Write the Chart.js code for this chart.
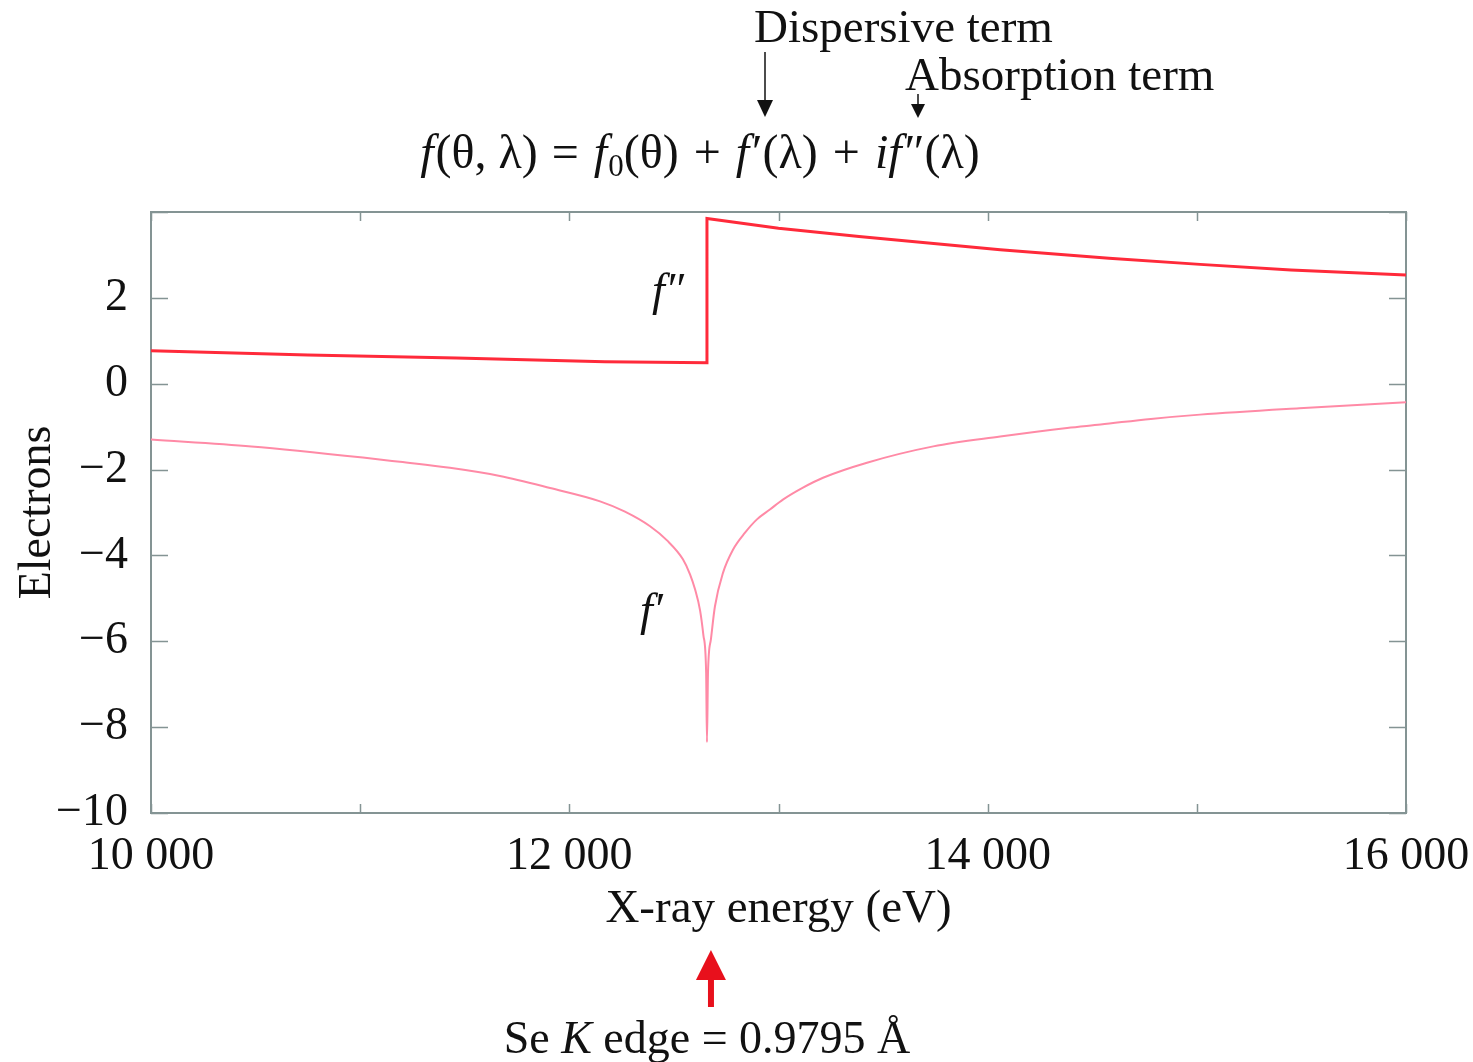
<!DOCTYPE html>
<html>
<head>
<meta charset="utf-8">
<script src="https://cdn.jsdelivr.net/npm/chart.js@4.4.1/dist/chart.umd.min.js"></script>
<style>
  html, body { margin: 0; padding: 0; background: #ffffff; }
  #wrap { width: 1473px; height: 1062px; position: relative; }
</style>
</head>
<body>
<div id="wrap"><canvas id="c" width="1473" height="1062"></canvas></div>
<script>
// ---- data ----
const fPrimeEnergy = [10000, 10480, 11013, 11190, 11429, 11668, 11908, 12147, 12266, 12386, 12467, 12543, 12577, 12601, 12625, 12641, 12654, 12658, 12663, 12677, 12696, 12735, 12783, 12840, 12897, 12959, 13021, 13117, 13213, 13423, 13740, 14060, 14380, 14540, 14780, 15015, 15490, 16000];
const fPrimeValues = [-1.30, -1.46, -1.72, -1.82, -1.96, -2.15, -2.43, -2.74, -2.98, -3.32, -3.65, -4.09, -4.44, -4.79, -5.28, -5.86, -6.72, -8.35, -6.72, -5.95, -5.19, -4.40, -3.86, -3.47, -3.16, -2.93, -2.70, -2.42, -2.19, -1.84, -1.46, -1.23, -1.03, -0.95, -0.82, -0.72, -0.57, -0.43];

const fDoublePrimeEnergy = [10000, 10750, 11460, 12170, 12658, 12658, 13000, 13385, 14060, 14580, 15015, 15450, 16000];
const fDoublePrimeValues = [0.77, 0.67, 0.60, 0.51, 0.49, 3.85, 3.62, 3.43, 3.12, 2.92, 2.78, 2.65, 2.53];

const xTickValues = [10000, 12000, 14000, 16000];
const xTickLabels = ['10 000', '12 000', '14 000', '16 000'];
const yTickValues = [-10, -8, -6, -4, -2, 0, 2];
const yTickLabels = ['\u221210', '\u22128', '\u22126', '\u22124', '\u22122', '0', '2'];

const xTitle = 'X-ray energy (eV)';
const yTitle = 'Electrons';
const edgeEnergy = 12658;

// ---- styles ----
const SERIF = '"Liberation Serif", "DejaVu Serif", serif';
const FRAME = '#849494';
const RED = '#ff2a3a';
const PINK = '#ff8aa6';
const INK = '#111111';

const toPoints = (xs, ys) => xs.map((v, i) => ({ x: v, y: ys[i] }));

function drawRich(ctx, parts, x, y) {
  let cx = x;
  for (const p of parts) {
    ctx.font = (p.italic ? 'italic ' : '') + p.size + 'px ' + SERIF;
    ctx.fillText(p.t, cx, y + (p.dy || 0));
    cx += ctx.measureText(p.t).width + (p.kern || 0);
  }
  return cx;
}
function measureRich(ctx, parts) {
  let w = 0;
  for (const p of parts) {
    ctx.font = (p.italic ? 'italic ' : '') + p.size + 'px ' + SERIF;
    w += ctx.measureText(p.t).width + (p.kern || 0);
  }
  return w;
}
function arrow(ctx, x, y1, y2, headLen, headHalf, width, color) {
  ctx.save();
  ctx.strokeStyle = color; ctx.fillStyle = color; ctx.lineWidth = width;
  const dir = y2 > y1 ? 1 : -1;
  ctx.beginPath(); ctx.moveTo(x, y1); ctx.lineTo(x, y2 - dir * headLen * 0.8); ctx.stroke();
  ctx.beginPath(); ctx.moveTo(x, y2); ctx.lineTo(x - headHalf, y2 - dir * headLen); ctx.lineTo(x + headHalf, y2 - dir * headLen); ctx.closePath(); ctx.fill();
  ctx.restore();
}

const frameAndTicks = {
  id: 'frameAndTicks',
  beforeDatasetsDraw(chart) {
    const { ctx, chartArea: a, scales: { x, y } } = chart;
    ctx.save();
    ctx.strokeStyle = FRAME;
    ctx.lineWidth = 2;
    ctx.strokeRect(a.left, a.top, a.right - a.left, a.bottom - a.top);
    ctx.beginPath();
    x.ticks.forEach(t => {
      const px = Math.round(x.getPixelForValue(t.value)) + 0.5;
      ctx.moveTo(px, a.bottom); ctx.lineTo(px, a.bottom - 9);
      ctx.moveTo(px, a.top); ctx.lineTo(px, a.top + 9);
    });
    y.ticks.forEach(t => {
      const py = Math.round(y.getPixelForValue(t.value)) + 0.5;
      ctx.moveTo(a.left, py); ctx.lineTo(a.left + 17, py);
      ctx.moveTo(a.right, py); ctx.lineTo(a.right - 17, py);
    });
    ctx.lineWidth = 1.5;
    ctx.stroke();
    ctx.restore();
  },
  afterDraw(chart) {
    const { ctx, scales: { x } } = chart;
    ctx.save();
    ctx.fillStyle = INK;
    ctx.textBaseline = 'alphabetic';
    ctx.textAlign = 'left';

    // top annotations
    ctx.font = '47px ' + SERIF;
    ctx.fillText('Dispersive term', 754, 42);
    ctx.fillText('Absorption term', 905, 90);
    arrow(ctx, 765, 52, 117, 17, 8, 1.5, INK);
    arrow(ctx, 918, 94, 118, 14, 7, 1.5, INK);

    const S = 48;
    const formula = [
      { t: 'f', italic: true, size: S, kern: 2 },
      { t: '(\u03b8, \u03bb) ', size: S, kern: 2 },
      { t: '= ', size: S, kern: 3 },
      { t: 'f', italic: true, size: S, kern: 1 },
      { t: '0', size: 31, dy: 8 },
      { t: '(\u03b8) ', size: S, kern: 3 },
      { t: '+ ', size: S, kern: 3 },
      { t: 'f\u2032', italic: true, size: S, kern: 3 },
      { t: '(\u03bb) ', size: S, kern: 3 },
      { t: '+ ', size: S, kern: 3 },
      { t: 'if\u2033', italic: true, size: S, kern: 3 },
      { t: '(\u03bb)', size: S }
    ];
    ctx.fillStyle = INK;
    const fw = measureRich(ctx, formula);
    drawRich(ctx, formula, 700 - fw / 2, 168);

    // curve labels
    ctx.font = 'italic 46px ' + SERIF;
    ctx.fillText('f\u2033', 652, 305);
    ctx.fillText('f\u2032', 640, 625);

    // Se K edge arrow and label
    const edgePx = x.getPixelForValue(edgeEnergy) + 4;
    arrow(ctx, edgePx, 1007, 950, 30, 15, 6, '#e8101c');
    ctx.fillStyle = INK;
    const edge = [
      { t: 'Se ', size: 46 },
      { t: 'K', italic: true, size: 46 },
      { t: ' edge = 0.9795 \u00c5', size: 46 }
    ];
    const ew = measureRich(ctx, edge);
    drawRich(ctx, edge, 707 - ew / 2, 1053);
    ctx.restore();
  }
};

new Chart(document.getElementById('c'), {
  type: 'line',
  data: {
    datasets: [
      {
        label: "f''",
        data: toPoints(fDoublePrimeEnergy, fDoublePrimeValues),
        borderColor: RED,
        borderWidth: 3,
        pointRadius: 0,
        tension: 0,
        fill: false
      },
      {
        label: "f'",
        data: toPoints(fPrimeEnergy, fPrimeValues),
        borderColor: PINK,
        borderWidth: 2,
        pointRadius: 0,
        cubicInterpolationMode: 'monotone',
        fill: false
      }
    ]
  },
  options: {
    responsive: false,
    animation: false,
    devicePixelRatio: 1,
    layout: { padding: { top: 212, right: 67, bottom: 124, left: 0 } },
    plugins: { legend: { display: false }, tooltip: { enabled: false } },
    scales: {
      x: {
        type: 'linear',
        min: 10000,
        max: 16000,
        grid: { display: false, drawTicks: false },
        border: { display: false },
        ticks: {
          stepSize: 1000,
          padding: 16,
          color: INK,
          font: { family: SERIF, size: 46 },
          maxRotation: 0,
          autoSkip: false,
          callback: v => { const i = xTickValues.indexOf(v); return i >= 0 ? xTickLabels[i] : ''; }
        },
        title: { display: true, text: xTitle, color: INK, font: { family: SERIF, size: 47 }, padding: 0 },
        afterFit: s => { s.height = 125; s.paddingLeft = 0; s.paddingRight = 0; }
      },
      y: {
        type: 'linear',
        min: -10,
        max: 4,
        grid: { display: false, drawTicks: false },
        border: { display: false },
        ticks: {
          stepSize: 2,
          padding: 23,
          color: INK,
          font: { family: SERIF, size: 46 },
          callback: v => { const i = yTickValues.indexOf(v); return i >= 0 ? yTickLabels[i] : ''; }
        },
        title: { display: true, text: yTitle, color: INK, font: { family: SERIF, size: 46 }, padding: { top: 10, bottom: 0 } },
        afterFit: s => { s.width = 151; s.paddingTop = 0; s.paddingBottom = 0; }
      }
    }
  },
  plugins: [frameAndTicks]
});
</script>
</body>
</html>
